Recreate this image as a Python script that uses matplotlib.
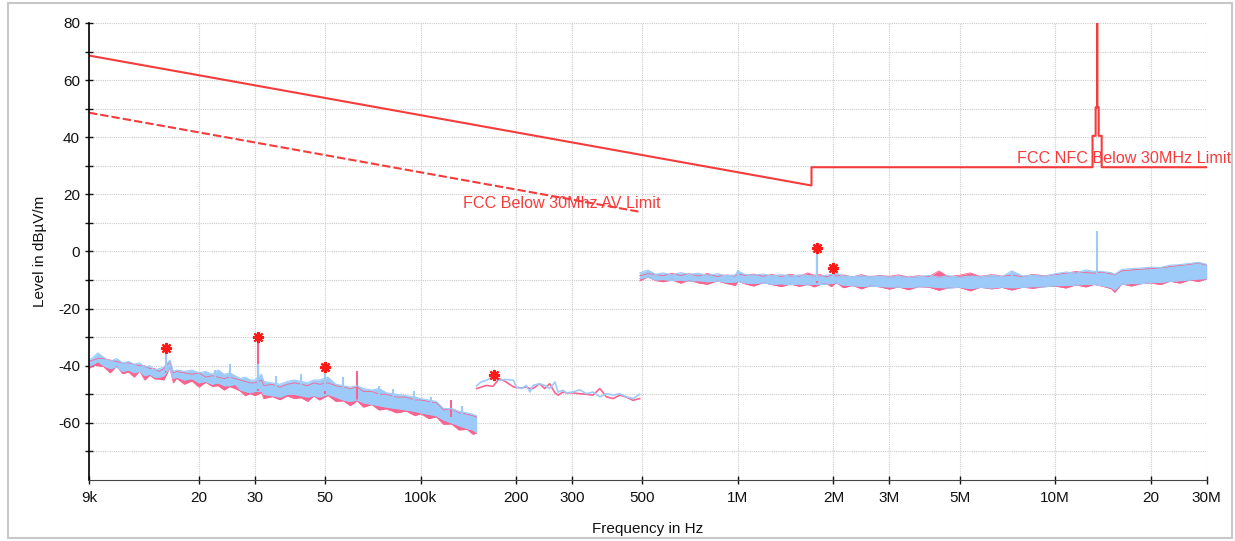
import numpy as np
import matplotlib.pyplot as plt
from matplotlib.patches import Rectangle

plt.rcParams['font.family'] = ['Liberation Sans', 'DejaVu Sans']
plt.rcParams['axes.unicode_minus'] = False

# band 1, 9 kHz - 150 kHz (frequencies in kHz, levels in dBuV/m)
f1 = [9, 9.3, 9.6, 10, 10.5, 11, 11.5, 12, 12.5, 13, 13.5, 14, 14.5, 15, 15.5,
      16.2, 16.6, 17, 18, 19, 20, 21, 22, 23, 24, 25, 26, 27, 28, 29, 30,
      31.5, 32, 34, 36, 38, 40, 42, 44, 46, 48, 51, 54, 57, 60, 63, 66, 70,
      74, 78, 84, 90, 96, 100, 106, 112, 118, 125, 132, 140, 146, 150]
b1_hi = [-38, -37, -35.5, -37, -38.5, -37.5, -39, -38.5, -39.5, -39, -40.5, -40, -41.5, -41, -40.5,
         -38, -42, -41.5, -42, -41.5, -42.5, -42, -43, -41.5, -43, -42.5, -43.5, -44.5, -44, -45, -45,
         -43, -45.5, -46, -46.5, -45.5, -45, -45.5, -46, -45, -45, -44, -46.5, -47, -47.5, -47, -48, -48.5,
         -48, -49.5, -50, -50.5, -51, -51.5, -52, -52.5, -55, -55, -56, -56.5, -57, -57.5]
b1_lo = [-40, -39.5, -38.5, -40, -41, -40.5, -42, -41.5, -42.5, -42, -43.5, -43, -44, -44, -43.5,
         -41, -44.5, -44, -45, -44.5, -46, -45.5, -46.5, -46, -47, -47, -46.5, -48.5, -49, -49.5, -49,
         -49, -50, -50.5, -51, -50, -50, -50.5, -51, -50.5, -51, -50, -51, -52, -52.5, -52, -53, -53.5,
         -54, -54.5, -55, -55.5, -56, -56.5, -57, -57.5, -59, -60, -61, -62, -62.5, -63.5]
p1_hi = [-38.5, -38, -37.5, -37.5, -38, -38.5, -39, -39, -39.5, -40, -40, -41, -41, -42, -41,
         -38.5, -42.5, -42, -42.5, -43, -42.5, -44, -43.5, -44, -44.5, -44, -44.5, -45, -45.5, -46, -46,
         -45, -47, -46.5, -47.5, -46.5, -46, -46.5, -47, -46, -46.5, -46, -47, -47.5, -48, -47.5, -49, -49,
         -50, -50, -51, -51, -52, -52, -52.5, -53, -55.5, -55, -56.5, -57, -57.5, -58]
p1_lo = [-41, -39.8, -40, -40.3, -42.5, -40.2, -42.8, -42.2, -44, -41.9, -45, -43.3, -44.6, -44.7, -45,
         -40.7, -46, -44.4, -46.5, -45.3, -47.5, -45.8, -47.2, -47, -48.5, -47.3, -48, -48.9, -50.5, -49.7, -50.5,
         -49.4, -51.5, -50.8, -51.9, -50.6, -51.5, -51.2, -52.5, -50.6, -52, -50.4, -52.5, -52.3, -54, -52.3, -54.5,
         -53.6, -55.5, -55.1, -56.5, -55.9, -57.5, -56.8, -58.5, -57.9, -60.5, -60.4, -62.5, -62.3, -64, -63.6]

# band 2, 150 kHz - 490 kHz (kHz)
f2 = [150, 155, 161, 169, 177, 186, 196, 200, 208, 215, 221, 226, 237, 246, 255,
      265, 271, 281, 288, 302, 317, 333, 349, 367, 385, 404, 424, 445, 467, 490]
b2 = [-47.0, -45.7, -45.1, -43.9, -45.1, -44.8, -45.1, -47.4, -48.0, -46.9, -49.2, -46.9, -46.3, -46.9, -48.0,
      -45.7, -49.2, -48.6, -49.5, -49.2, -48.4, -49.8, -49.2, -50.9, -49.8, -50.3, -49.8, -50.9, -51.5, -50.0]
p2 = [-48.0, -47.5, -46.9, -47.2, -44.5, -45.7, -47.4, -47.6, -47.8, -47.4, -48.0, -48.0, -46.3, -48.0, -46.3,
      -49.5, -50.3, -49.2, -49.5, -49.5, -49.8, -50.0, -50.3, -48.0, -50.9, -51.5, -50.3, -51.0, -52.1, -51.5]

# band 3, 490 kHz - 30 MHz (MHz)
f3 = [0.49, 0.52, 0.55, 0.58, 0.62, 0.66, 0.70, 0.75, 0.80, 0.86, 0.92, 0.98, 1.0, 1.05, 1.12,
      1.2, 1.28, 1.37, 1.46, 1.56, 1.66, 1.74, 1.82, 1.9, 1.97, 2.04, 2.15, 2.3, 2.45, 2.6,
      2.8, 3.0, 3.2, 3.45, 3.7, 4.0, 4.3, 4.6, 5.0, 5.4, 5.8, 6.3, 6.8, 7.3, 7.9,
      8.5, 9.2, 10.0, 10.8, 11.6, 12.5, 13.3, 14.0, 15.0, 15.4, 16.2, 17.4, 18.7, 20.0, 21.5,
      23.0, 24.7, 26.5, 28.3, 30.0]
b3_hi = [-7.5, -6.5, -8.0, -7.5, -8.2, -7.4, -8.0, -7.6, -8.4, -7.8, -8.5, -8.2, -6.8, -8.0, -8.3,
         -7.9, -8.5, -8.1, -8.6, -8.2, -8.4, -8.6, -8.7, -8.3, -8.0, -7.5, -8.6, -8.8, -8.5, -8.9,
         -8.6, -9.0, -8.7, -9.1, -8.8, -8.4, -9.0, -8.5, -9.0, -8.6, -8.9, -8.4, -8.8, -6.8, -8.6,
         -8.3, -8.7, -7.8, -7.2, -7.6, -6.5, -7.0, -7.0, -7.4, -8.0, -6.3, -6.0, -5.8, -5.5, -5.6,
         -4.8, -4.6, -4.2, -3.8, -4.5]
b3_lo = [-9.5, -9.0, -10.0, -9.8, -10.2, -10.0, -10.4, -10.2, -10.6, -10.4, -10.8, -10.7, -10.5, -11.0, -11.2,
         -11.0, -11.5, -11.3, -11.6, -11.4, -11.7, -11.5, -11.6, -11.4, -11.2, -11.0, -11.8, -12.0, -12.2, -12.1,
         -12.3, -12.4, -12.5, -12.6, -12.4, -12.3, -12.6, -12.8, -12.5, -13.0, -12.6, -12.8, -12.5, -12.7, -12.6,
         -12.3, -12.4, -12.0, -11.9, -11.8, -11.5, -11.6, -12.0, -12.6, -13.5, -11.5, -11.2, -11.3, -10.9, -10.8,
         -10.5, -10.2, -10.0, -9.6, -9.5]
p3_hi = [-8.5, -7.8, -8.0, -8.5, -7.6, -8.4, -7.8, -8.6, -7.7, -8.8, -8.2, -8.6, -7.8, -8.4, -7.9,
         -8.7, -8.0, -8.8, -7.9, -8.7, -7.5, -8.3, -8.1, -8.9, -8.4, -8.6, -8.2, -8.9, -8.1, -8.8,
         -8.4, -8.7, -8.2, -8.9, -8.5, -8.8, -6.8, -8.8, -8.3, -7.5, -8.7, -8.1, -8.6, -8.3, -8.8,
         -8.0, -8.5, -8.1, -7.6, -7.0, -7.4, -7.6, -7.2, -7.8, -8.2, -6.8, -6.5, -6.2, -6.0, -5.7,
         -5.3, -4.9, -4.5, -4.0, -4.8]
p3_lo = [-10.3, -8.9, -10.2, -10.6, -10.0, -11.1, -10.1, -11.0, -11.5, -10.3, -11.2, -11.9, -10.4, -11.3, -12.1,
         -10.9, -11.6, -12.3, -11.4, -12.2, -11.5, -12.4, -11.5, -11.2, -12.3, -10.9, -12.7, -11.9, -13.1, -12.0,
         -12.4, -13.2, -12.4, -13.4, -12.3, -12.5, -13.6, -12.7, -12.6, -13.8, -12.5, -13.1, -12.6, -13.5, -12.5,
         -12.9, -12.3, -12.1, -12.8, -11.7, -12.4, -11.5, -12.1, -13.0, -14.3, -11.4, -12.1, -11.2, -11.0, -11.6,
         -10.4, -11.1, -10.0, -10.5, -9.6]

# narrow spikes: frequency (Hz), base level, peak level
pink_spk_f = [15.8e3, 30.8e3, 49.9e3, 63e3, 125e3, 1.78e6]
pink_spk_lo = [-43, -49, -50, -52, -58, -11]
pink_spk_hi = [-33.5, -29.5, -41, -42, -52, 0.5]
blue_spk_f = [15.8e3, 22.5e3, 25e3, 30.8e3, 35e3, 42e3, 49.9e3, 57e3, 74e3, 82e3, 95e3, 108e3, 135e3,
              1.0e6, 1.78e6, 2.0e6, 7.3e6, 13.56e6]
blue_spk_lo = [-42, -45, -46, -48, -49, -49, -49, -50, -53, -53, -55, -56, -59,
               -10, -10.5, -10.5, -12, -11.5]
blue_spk_hi = [-34.5, -41.5, -39.5, -39.5, -43.5, -43, -40.3, -44, -47, -48, -49, -51, -54,
               -6.5, 1.3, -6.0, -6.8, 7.0]

# final measurement peaks (stars)
peak_f = [15.8e3, 30.8e3, 49.9e3, 170e3, 1.78e6, 2.0e6]
peak_lvl = [-33.9, -29.8, -40.3, -43.3, 1.3, -5.9]

# limit lines
qp_f = [9e3, 20e3, 1.705e6, 1.705e6, 13.11e6, 13.11e6, 13.41e6, 13.41e6, 13.553e6, 13.553e6,
        13.567e6, 13.567e6, 13.71e6, 13.71e6, 14.01e6, 14.01e6, 30e6]
qp_lvl = [68.6, 61.7, 23.1, 29.5, 29.5, 40.5, 40.5, 50.5, 50.5, 124, 124, 50.5, 50.5, 40.5, 40.5, 29.5, 29.5]
av_f = [9e3, 20e3, 490e3]
av_lvl = [48.6, 41.7, 13.9]

xticks = [9e3, 20e3, 30e3, 50e3, 100e3, 200e3, 300e3, 500e3, 1e6, 2e6, 3e6, 5e6, 10e6, 20e6, 30e6]
xlabels = ['9k', '20', '30', '50', '100k', '200', '300', '500', '1M', '2M', '3M', '5M', '10M', '20', '30M']

pink = '#f7648f'
blue = '#9ccbfa'
red = '#f53c3c'

fig = plt.figure(figsize=(12.35, 5.41), dpi=100)
ax = fig.add_axes([0.072, 0.1128, 0.905, 0.8447])
fig.patches.append(Rectangle((0.0065, 0.006), 0.991, 0.988, transform=fig.transFigure,
                             fill=False, edgecolor='#c8c8c8', lw=1.5))

for f, hi, lo, k in [(f1, p1_hi, p1_lo, 1e3), (f3, p3_hi, p3_lo, 1e6)]:
    fr = np.array(f) * k
    ax.fill_between(fr, lo, hi, color=pink, lw=0)
    ax.plot(fr, hi, color=pink, lw=0.6)
    ax.plot(fr, lo, color=pink, lw=0.6)
ax.vlines(pink_spk_f, pink_spk_lo, pink_spk_hi, color=pink, lw=1.5)
ax.plot(np.array(f2) * 1e3, p2, color=pink, lw=1.2)

for f, hi, lo, k in [(f1, b1_hi, b1_lo, 1e3), (f3, b3_hi, b3_lo, 1e6)]:
    fr = np.array(f) * k
    ax.fill_between(fr, lo, hi, color=blue, lw=0)
    ax.plot(fr, hi, color=blue, lw=0.8)
    ax.plot(fr, lo, color=blue, lw=0.8)
ax.vlines(blue_spk_f, blue_spk_lo, blue_spk_hi, color=blue, lw=1.5)
ax.plot(np.array(f2) * 1e3, b2, color=blue, lw=1.2)

ax.plot(qp_f, qp_lvl, color=red, lw=1.5)
ax.plot(av_f, av_lvl, color=red, lw=1.5, ls=(0, (4, 1.5)))
ax.plot(peak_f, peak_lvl, ls='none', marker=(8, 2, 0), ms=8, mew=1.6, color='#ff1a1a')

ax.text(136e3, 16.8, 'FCC Below 30Mhz AV Limit', color=red, fontsize=11.6, va='center', ha='left')
ax.text(7.56e6, 32.5, 'FCC NFC Below 30MHz Limit', color=red, fontsize=11.6, va='center',
        ha='left', clip_on=False)

ax.set_xscale('log')
ax.set_xlim(9e3, 30e6)
ax.set_ylim(-80, 80)
ax.set_xticks(xticks)
ax.set_xticklabels(xlabels)
ax.xaxis.set_minor_locator(plt.NullLocator())
ax.set_yticks(range(-60, 81, 20))
ax.set_yticks(range(-70, 80, 20), minor=True)
ax.tick_params(axis='both', which='both', direction='inout', length=6, width=1, labelsize=11,
               colors='#111111')
ax.tick_params(axis='x', pad=5)
ax.grid(True, which='both', color='#cccccc', lw=0.8, ls=(0, (1, 1)))
ax.set_axisbelow(True)
for s in ['top', 'right']:
    ax.spines[s].set_visible(False)
ax.spines['left'].set_linewidth(1.2)
ax.spines['bottom'].set_color('#444444')
ax.set_xlabel('Frequency in Hz', fontsize=11, color='#111111', labelpad=12)
ax.set_ylabel('Level in dBµV/m', fontsize=11, color='#111111', labelpad=8)

fig.savefig('out.png', dpi=100)
